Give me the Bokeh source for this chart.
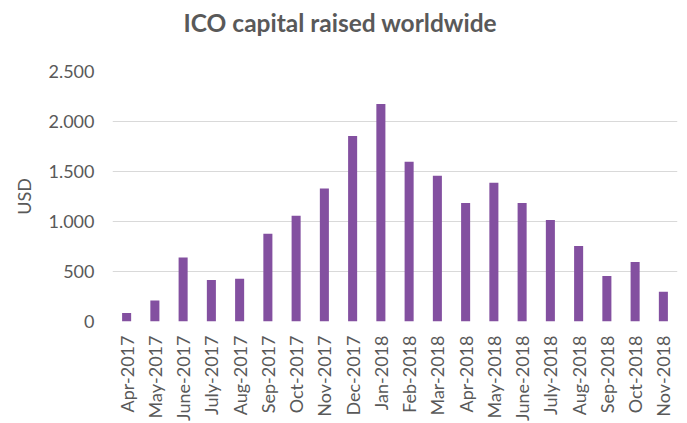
import math
from bokeh.plotting import figure
from bokeh.models import ColumnDataSource, Range1d, FixedTicker, Title
from bokeh.embed import file_html
from bokeh.resources import INLINE

months = ["Apr-2017", "May-2017", "June-2017", "July-2017", "Aug-2017", "Sep-2017",
          "Oct-2017", "Nov-2017", "Dec-2017", "Jan-2018", "Feb-2018", "Mar-2018",
          "Apr-2018", "May-2018", "June-2018", "July-2018", "Aug-2018", "Sep-2018",
          "Oct-2018", "Nov-2018"]
usd = [85, 210, 640, 414, 427, 877, 1057, 1330, 1854, 2174, 1597, 1457,
       1184, 1387, 1184, 1014, 754, 454, 594, 297]
y_ticks = [0, 500, 1000, 1500, 2000, 2500]
y_tick_labels = ["0", "500", "1.000", "1.500", "2.000", "2.500"]
chart_title = "ICO capital raised worldwide"

FONT = "Lato"
TXT = "#595959"

src = ColumnDataSource(dict(month=months, usd=usd))

p = figure(x_range=months, y_range=Range1d(0, 2500),
           frame_width=565, frame_height=250,
           output_backend="svg", toolbar_location=None,
           min_border_left=112, min_border_right=2, min_border_top=0, min_border_bottom=0)

p.vbar(x="month", top="usd", width=0.32, source=src, color="#8350A0", line_color=None)

p.outline_line_color = None
p.background_fill_color = "white"
p.border_fill_color = "white"

# spacer between title and plot area (closest to the frame)
p.add_layout(Title(text=" ", text_font_size="2px", standoff=26), "above")
p.add_layout(Title(text=chart_title, text_font=FONT, text_font_size="24.5px",
                   text_font_style="bold", text_color=TXT, align="left",
                   offset=71, standoff=10), "above")

p.xgrid.grid_line_color = None
p.ygrid.grid_line_color = "#D9D9D9"
p.ygrid.grid_line_width = 1

p.yaxis.ticker = FixedTicker(ticks=y_ticks)
p.yaxis.major_label_overrides = {t: l for t, l in zip(y_ticks, y_tick_labels)}
p.yaxis.axis_line_color = None
p.yaxis.major_tick_line_color = None
p.yaxis.minor_tick_line_color = None
p.yaxis.major_label_standoff = 12
p.yaxis.major_label_text_font = FONT
p.yaxis.major_label_text_font_size = "18px"
p.yaxis.major_label_text_color = TXT
p.yaxis.axis_label = "USD"
p.yaxis.axis_label_text_font = FONT
p.yaxis.axis_label_text_font_size = "18px"
p.yaxis.axis_label_text_font_style = "normal"
p.yaxis.axis_label_text_color = TXT
p.yaxis.axis_label_standoff = 10

p.xaxis.axis_line_color = None
p.xaxis.major_tick_line_color = None
p.xaxis.minor_tick_line_color = None
p.xaxis.major_label_orientation = math.pi / 2
p.xaxis.major_label_standoff = 8
p.xaxis.major_label_text_font = FONT
p.xaxis.major_label_text_font_size = "18px"
p.xaxis.major_label_text_color = TXT

open("out.html", "w").write(file_html(p, INLINE))
